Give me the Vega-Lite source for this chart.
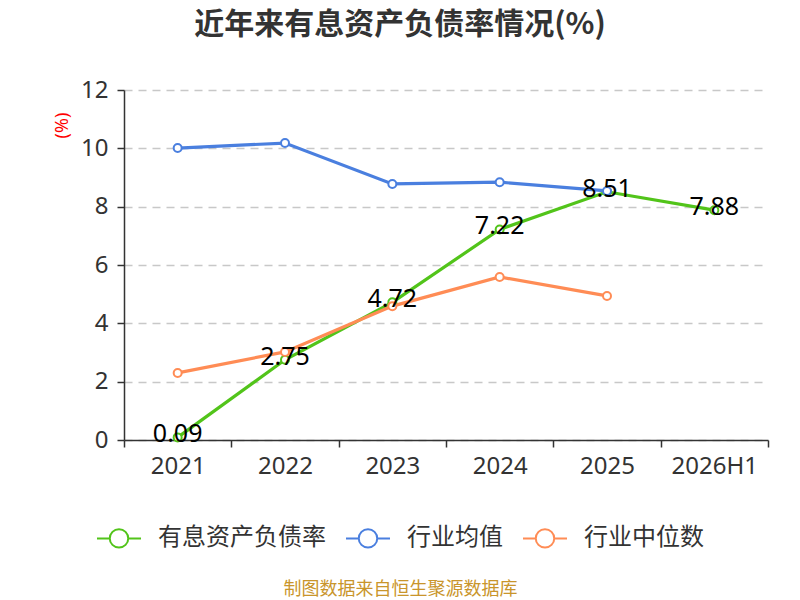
{
  "$schema": "https://vega.github.io/schema/vega-lite/v6.json",
  "width": 644,
  "height": 350,
  "autosize": {"type": "none"},
  "padding": {"left": 124, "top": 90, "right": 32, "bottom": 160},
  "background": "white",
  "config": {"font": "Noto Sans, Noto Sans CJK SC", "view": {"stroke": null}},
  "title": {"text": "近年来有息资产负债率情况(%)", "fontSize": 30, "fontWeight": "bold", "color": "#333333", "anchor": "middle", "dx": -46, "offset": 38, "font": "Noto Sans CJK SC"},
  "data": {"values": [
    {"year": "2021", "series": "有息资产负债率", "value": 0.09},
    {"year": "2022", "series": "有息资产负债率", "value": 2.75},
    {"year": "2023", "series": "有息资产负债率", "value": 4.72},
    {"year": "2024", "series": "有息资产负债率", "value": 7.22},
    {"year": "2025", "series": "有息资产负债率", "value": 8.51},
    {"year": "2026H1", "series": "有息资产负债率", "value": 7.88},
    {"year": "2021", "series": "行业均值", "value": 10.01},
    {"year": "2022", "series": "行业均值", "value": 10.18},
    {"year": "2023", "series": "行业均值", "value": 8.78},
    {"year": "2024", "series": "行业均值", "value": 8.84},
    {"year": "2025", "series": "行业均值", "value": 8.54},
    {"year": "2021", "series": "行业中位数", "value": 2.30},
    {"year": "2022", "series": "行业中位数", "value": 3.02},
    {"year": "2023", "series": "行业中位数", "value": 4.59},
    {"year": "2024", "series": "行业中位数", "value": 5.59},
    {"year": "2025", "series": "行业中位数", "value": 4.94}
  ]},
  "encoding": {
    "x": {
      "field": "year", "type": "ordinal", "sort": null, "bandPosition": 0.5,
      "scale": {"type": "band", "paddingInner": 0, "paddingOuter": 0},
      "axis": {
        "title": "制图数据来自恒生聚源数据库", "titleColor": "#c9952b", "titleFontSize": 18, "titleFontWeight": "normal", "titleFont": "Noto Sans CJK SC",
        "titleX": 276, "titleY": 149, "titleAlign": "center", "titleBaseline": "middle",
        "labelAngle": 0, "labelFontSize": 24, "labelColor": "#333333", "labelPadding": 7,
        "tickBand": "extent", "tickSize": 7, "tickColor": "#333333", "tickWidth": 1.5,
        "domainColor": "#333333", "domainWidth": 1.5, "grid": false
      }
    },
    "y": {
      "field": "value", "type": "quantitative",
      "scale": {"domain": [0, 12]},
      "axis": {
        "values": [0, 2, 4, 6, 8, 10, 12],
        "title": "(%)", "titleColor": "#ff0000", "titleFontSize": 18, "titleFontWeight": "normal",
        "titleX": -62, "titleY": 35, "titleAlign": "center", "titleBaseline": "middle",
        "labelFontSize": 24, "labelColor": "#333333", "labelPadding": 9,
        "tickSize": 7, "tickColor": "#333333", "tickWidth": 1.5,
        "domainColor": "#333333", "domainWidth": 1.5,
        "grid": true, "gridDash": [8, 6], "gridColor": "#c8c8c8", "gridWidth": 1.3
      }
    }
  },
  "layer": [
    {
      "mark": {"type": "line", "strokeWidth": 3.2, "point": {"filled": false, "fill": "white", "size": 64, "strokeWidth": 2}},
      "encoding": {
        "color": {
          "field": "series", "type": "nominal",
          "scale": {"domain": ["有息资产负债率", "行业均值", "行业中位数"], "range": ["#52c41a", "#4a7fdf", "#ff8c55"]},
          "legend": {
            "title": null, "orient": "none", "legendX": -28, "legendY": 425, "direction": "horizontal", "columns": 3,
            "symbolType": "M-1,0L-0.42,0M0.42,0L1,0M-0.42,0A0.42,0.42,0,1,1,0.42,0A0.42,0.42,0,1,1,-0.42,0",
            "symbolSize": 1936, "symbolStrokeWidth": 2, "symbolFillColor": "white",
            "labelFontSize": 24, "labelColor": "#333333", "labelOffset": 16, "columnPadding": 16, "padding": 0,
            "labelFont": "Noto Sans CJK SC", "labelLimit": 400
          }
        }
      }
    },
    {
      "transform": [{"filter": "datum.series === '有息资产负债率'"}],
      "mark": {"type": "text", "fontSize": 25, "color": "#000000", "baseline": "middle", "dy": -3},
      "encoding": {"text": {"field": "value", "type": "quantitative", "format": ".2f"}}
    }
  ]
}
